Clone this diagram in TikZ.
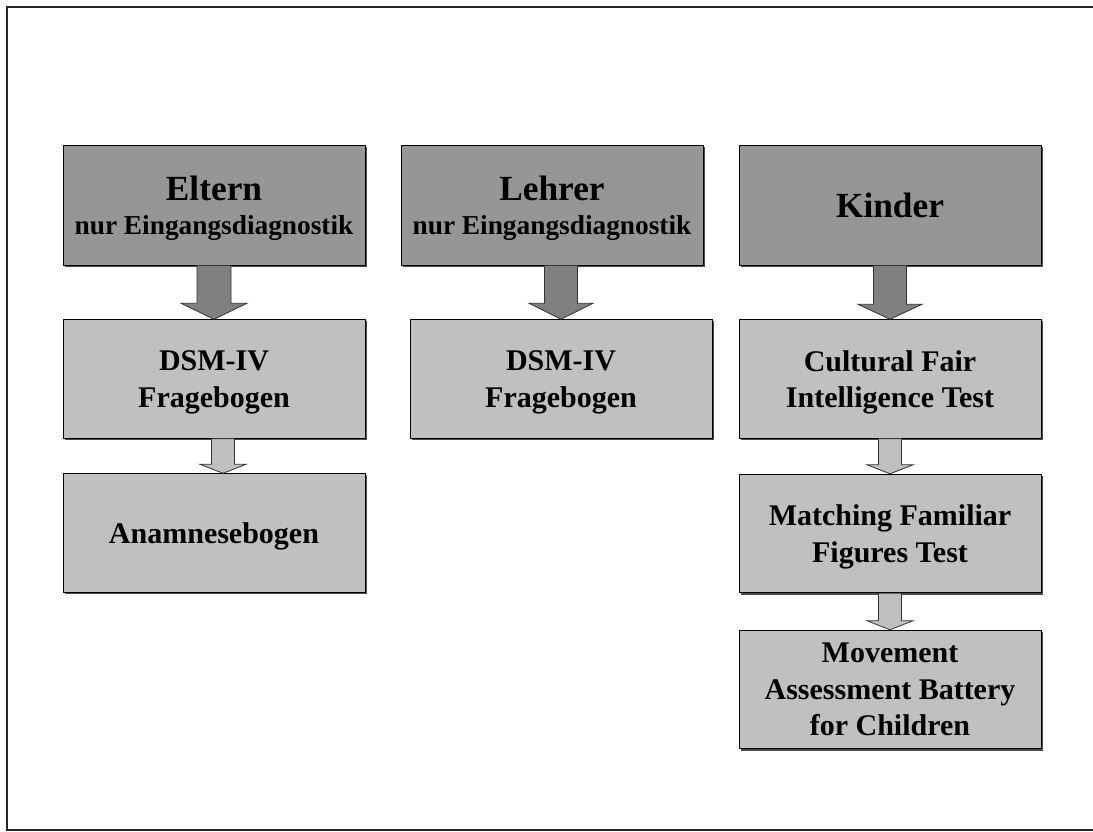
\documentclass[tikz,border=0pt]{standalone}
\usepackage{fontspec}
\setmainfont{Liberation Serif}
\usetikzlibrary{calc,shadows}

\definecolor{headgray}{RGB}{150,150,150}
\definecolor{boxgray}{RGB}{192,192,192}
\definecolor{arrowdark}{RGB}{128,128,128}

% block arrow from the bottom of #2 to the top of #3
% #1 style, #4 x offset, #5 half shaft width, #6 half head width, #7 head length
\newcommand{\blockarrow}[7]{%
  \draw[#1] ($(#2.south -| #3.north)+(#4-#5,0)$)
    -- ($(#3.north)+(#4-#5,-#7)$) -- ($(#3.north)+(#4-#6,-#7)$)
    -- ($(#3.north)+(#4,0)$)
    -- ($(#3.north)+(#4+#6,-#7)$) -- ($(#3.north)+(#4+#5,-#7)$)
    -- ($(#2.south -| #3.north)+(#4+#5,0)$) -- cycle;}

\begin{document}
\begin{tikzpicture}[x=0.75pt,y=-0.75pt,
  font=\bfseries,
  card/.style={draw=black, line width=0.6pt, minimum width=226.5pt,
    minimum height=89pt, inner sep=0pt, align=center, text depth=0pt,
    drop shadow={shadow xshift=1.3pt, shadow yshift=-1.3pt, fill=black!70, opacity=1}},
  headcard/.style={card, fill=headgray, minimum height=90pt,
    font=\bfseries\fontsize{20.5}{25.5}\selectfont},
  stepcard/.style={card, fill=boxgray,
    font=\bfseries\fontsize{22.5}{27.5}\selectfont},
  bigarrow/.style={draw=black!80, line width=0.6pt, fill=arrowdark},
  smallarrow/.style={draw=black!80, line width=0.6pt, fill=boxgray},
  frame/.style={draw=black!85, line width=1.5pt}]

\useasboundingbox (0,0) rectangle (1093,832);
\draw[frame] (7,7) rectangle (1120,830);

% column: parents
\node[headcard] (eltern) at (214,205)
  {{\fontsize{26.5}{30}\selectfont Eltern}\\
   nur Eingangsdiagnostik};
\node[stepcard] (edsm) at (214,379) {DSM-IV\\Fragebogen};
\node[stepcard] (anam) at (214,533) {Anamnesebogen};

% column: teachers
\node[headcard] (lehrer) at (552,205)
  {{\fontsize{26.5}{30}\selectfont Lehrer}\\
   nur Eingangsdiagnostik};
\node[stepcard] (ldsm) at (561,379) {DSM-IV\\Fragebogen};

% column: children
\node[headcard] (kinder) at (890,205) {\fontsize{26.5}{30}\selectfont Kinder};
\node[stepcard] (cft) at (890,379) {Cultural Fair\\Intelligence Test};
\node[stepcard] (mff) at (890,533.5) {Matching Familiar\\Figures Test};
\node[stepcard] (mabc) at (890,689.5) {Movement\\Assessment Battery\\for Children};

% connectors
\blockarrow{bigarrow}{eltern}{edsm}{0}{17}{33}{16}
\blockarrow{smallarrow}{edsm}{anam}{9}{11.5}{23}{9}
\blockarrow{bigarrow}{lehrer}{ldsm}{0}{16.5}{32}{16}
\blockarrow{bigarrow}{kinder}{cft}{0}{16.5}{32}{15}
\blockarrow{smallarrow}{cft}{mff}{0}{11.5}{23}{9}
\blockarrow{smallarrow}{mff}{mabc}{0}{11.5}{23}{9}
\end{tikzpicture}
\end{document}
